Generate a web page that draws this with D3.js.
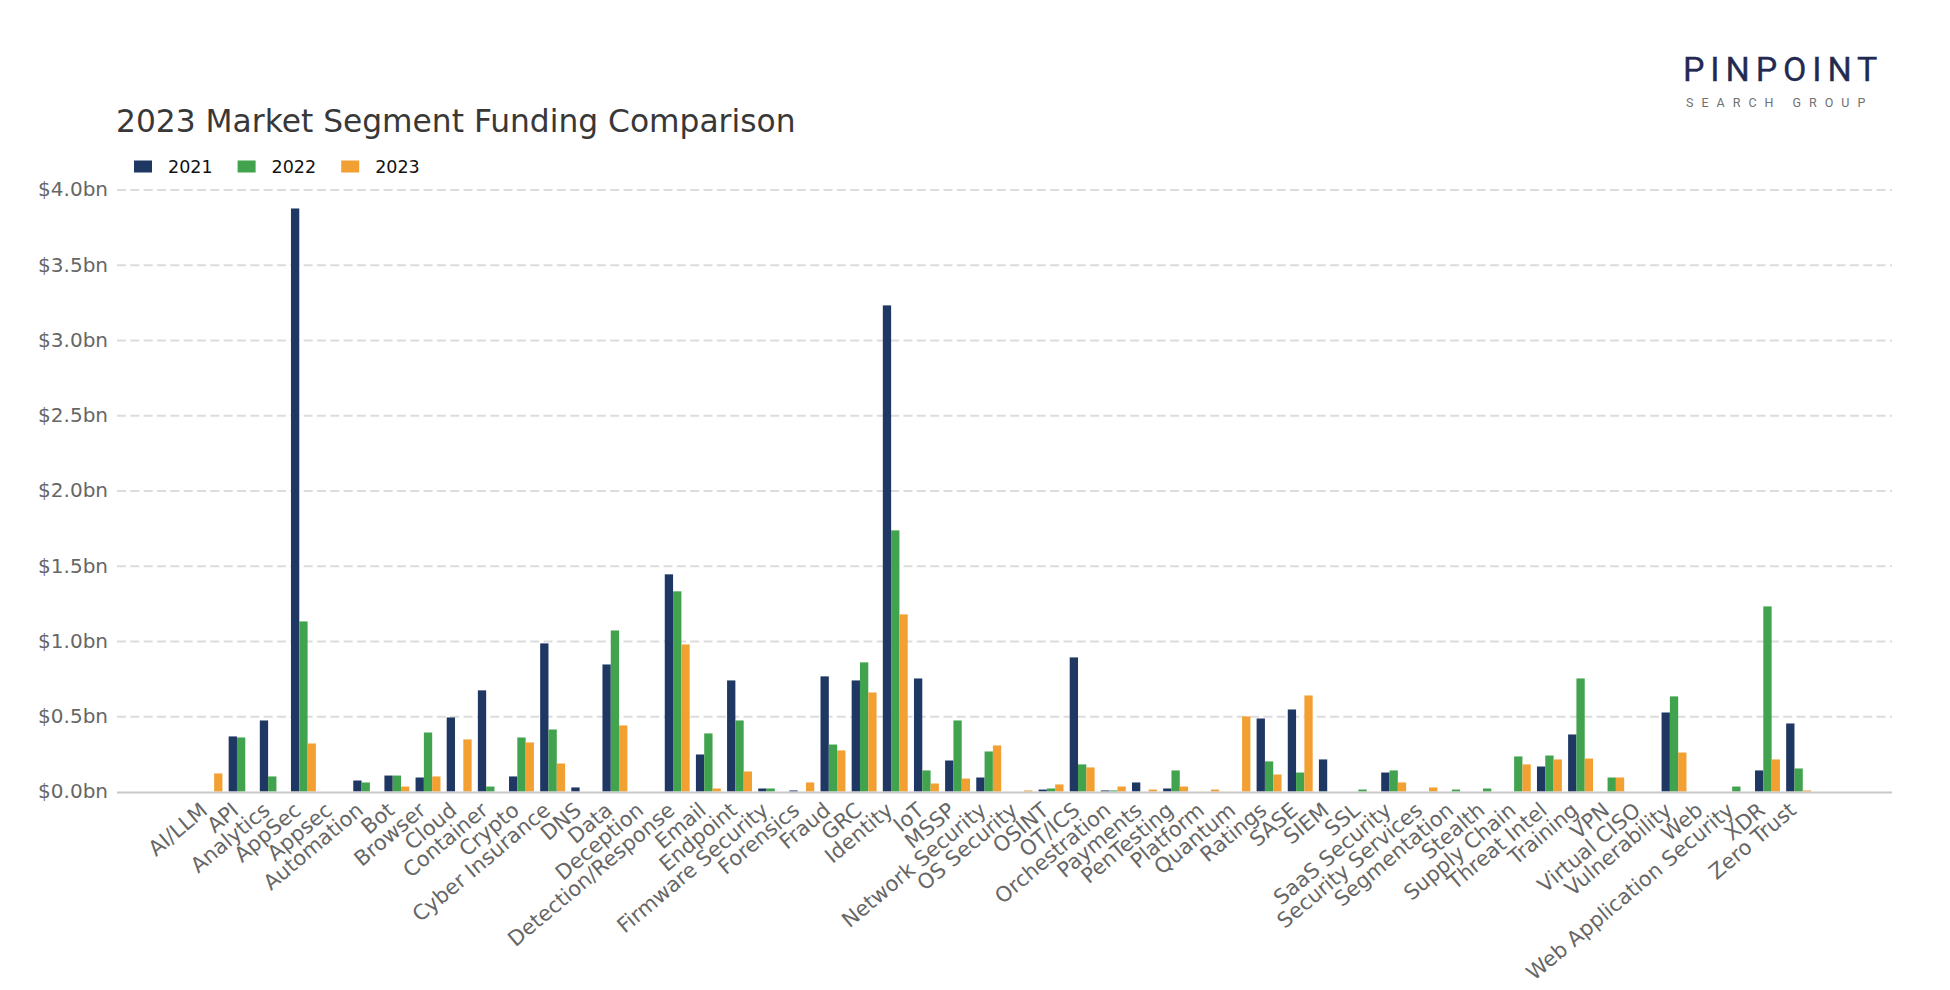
<!DOCTYPE html>
<html>
<head>
<meta charset="utf-8">
<script src="https://cdn.jsdelivr.net/npm/d3@7"></script>
<style>
  html, body { margin: 0; padding: 0; background: #fff; }
  svg { display: block; font-family: "DejaVu Sans", sans-serif; }
</style>
</head>
<body>
<svg id="chart" width="1950" height="990"></svg>
<script>
// market segments, in the order of the x axis
const segments = [
    "AI/LLM", "API", "Analytics", "AppSec", "Appsec", "Automation", "Bot", "Browser",
    "Cloud", "Container", "Crypto", "Cyber Insurance", "DNS", "Data", "Deception",
    "Detection/Response", "Email", "Endpoint", "Firmware Security", "Forensics", "Fraud",
    "GRC", "Identity", "IoT", "MSSP", "Network Security", "OS Security", "OSINT", "OT/ICS",
    "Orchestration", "Payments", "PenTesting", "Platform", "Quantum", "Ratings", "SASE",
    "SIEM", "SSL", "SaaS Security", "Security Services", "Segmentation", "Stealth",
    "Supply Chain", "Threat Intel", "Training", "VPN", "Virtual CISO", "Vulnerability",
    "Web", "Web Application Security", "XDR", "Zero Trust"
];

// funding in $bn
const funding2021 = [
    0, 0.366, 0.472, 3.874, 0, 0.073, 0.106, 0.093,
    0.492, 0.672, 0.10, 0.984, 0.027, 0.844, 0,
    1.443, 0.246, 0.738, 0.02, 0.007, 0.765,
    0.738, 3.23, 0.751, 0.206, 0.093, 0, 0.013, 0.891,
    0.007, 0.06, 0.02, 0, 0, 0.485, 0.545,
    0.213, 0, 0.126, 0, 0, 0,
    0, 0.166, 0.379, 0, 0, 0.525,
    0, 0, 0.14, 0.452
];
const funding2022 = [
    0, 0.359, 0.10, 1.13, 0, 0.06, 0.106, 0.392,
    0, 0.033, 0.359, 0.412, 0, 1.07, 0,
    1.33, 0.386, 0.472, 0.02, 0, 0.312,
    0.858, 1.735, 0.14, 0.472, 0.266, 0, 0.02, 0.18,
    0.007, 0, 0.14, 0, 0, 0.20, 0.126,
    0, 0.013, 0.14, 0, 0.013, 0.02,
    0.233, 0.239, 0.751, 0.093, 0, 0.632,
    0, 0.033, 1.23, 0.153
];
const funding2023 = [
    0.12, 0, 0, 0.319, 0, 0, 0.033, 0.10,
    0.346, 0, 0.326, 0.186, 0, 0.439, 0,
    0.977, 0.02, 0.133, 0, 0.06, 0.273,
    0.658, 1.177, 0.053, 0.086, 0.306, 0.007, 0.047, 0.16,
    0.033, 0.013, 0.033, 0.013, 0.499, 0.113, 0.638,
    0, 0, 0.06, 0.027, 0, 0,
    0.18, 0.213, 0.219, 0.093, 0, 0.259,
    0, 0, 0.213, 0.007
];

const years = ["2021", "2022", "2023"];
const yTicks = [0, 0.5, 1, 1.5, 2, 2.5, 3, 3.5, 4];
const colours = { "2021": "#1f3763", "2022": "#41a34d", "2023": "#f2a032" };

const series = { "2021": funding2021, "2022": funding2022, "2023": funding2023 };
const rows = segments.map((s, i) => ({
    segment: s,
    values: years.map(y => ({ year: y, value: series[y][i] }))
}));

const svg = d3.select("#chart");

const plotLeft = 117,
    plotRight = 1892,
    x = d3.scaleBand()
        .domain(segments)
        .range([194.4, 1814.2])
        .paddingInner(0.2)
        .paddingOuter(0.1),
    xYear = d3.scaleBand()
        .domain(years)
        .range([0, x.bandwidth()]),
    y = d3.scaleLinear()
        .domain([0, 4])
        .range([791.5, 189.5]);

// gridlines + y labels
const yAxis = svg.append("g")
    .attr("class", "axis axis--y")
    .attr("transform", "translate(" + plotLeft + ",0)")
    .call(d3.axisLeft(y)
        .tickValues(yTicks)
        .tickSize(-(plotRight - plotLeft))
        .tickPadding(9)
        .tickFormat(d => "$" + d3.format(".1f")(d) + "bn"));

yAxis.select(".domain").remove();
yAxis.selectAll(".tick line")
    .attr("stroke", "#dcdcdc")
    .attr("stroke-width", 2)
    .attr("stroke-dasharray", "9,4.33")
    .filter(d => d === 0).remove();
yAxis.selectAll(".tick text")
    .attr("fill", "#666")
    .style("font-size", "20px")
    .style("font-family", "DejaVu Sans");

// bars
svg.append("g")
    .attr("class", "bars")
    .selectAll("g")
    .data(rows)
    .enter()
    .append("g")
    .attr("transform", d => "translate(" + x(d.segment) + ",0)")
    .selectAll("rect")
    .data(d => d.values.filter(v => v.value > 0))
    .enter()
    .append("rect")
    .attr("x", d => xYear(d.year))
    .attr("y", d => y(d.value))
    .attr("width", xYear.bandwidth())
    .attr("height", d => y(0) - y(d.value))
    .attr("fill", d => colours[d.year]);

// baseline
svg.append("line")
    .attr("x1", plotLeft)
    .attr("x2", plotRight)
    .attr("y1", y(0) + 1)
    .attr("y2", y(0) + 1)
    .attr("stroke", "#c8c8c8")
    .attr("stroke-width", 2);

// x labels
const xAxis = svg.append("g")
    .attr("class", "axis axis--x")
    .attr("transform", "translate(0," + y(0) + ")")
    .call(d3.axisBottom(x).tickSize(0).tickPadding(0));

xAxis.select(".domain").remove();
xAxis.selectAll(".tick text")
    .attr("fill", "#666")
    .attr("y", 0)
    .attr("dy", 0)
    .attr("text-anchor", "end")
    .attr("transform", "translate(-1,21) rotate(-40)")
    .style("font-size", "21px")
    .style("font-family", "DejaVu Sans");

// title
svg.append("text")
    .attr("x", 116)
    .attr("y", 132)
    .attr("fill", "#383838")
    .style("font-size", "31.3px")
    .text("2023 Market Segment Funding Comparison");

// legend
const legend = svg.append("g")
    .attr("class", "legend")
    .selectAll("g")
    .data(years)
    .enter()
    .append("g")
    .attr("transform", (d, i) => "translate(" + (134 + i * 103.6) + ",160.5)");

legend.append("rect")
    .attr("width", 18)
    .attr("height", 12)
    .attr("fill", d => colours[d]);

legend.append("text")
    .attr("x", 34)
    .attr("y", 12)
    .attr("fill", "#111")
    .style("font-size", "17.5px")
    .text(d => d);

// logo
const logo = svg.append("g").attr("class", "logo");
logo.append("line")
    .attr("x1", 1660).attr("x2", 1905)
    .attr("y1", 80).attr("y2", 80)
    .attr("stroke", "#ececec")
    .attr("stroke-dasharray", "1,6");
logo.append("text")
    .attr("x", 1683)
    .attr("y", 81)
    .attr("fill", "#232a52")
    .attr("stroke", "#232a52")
    .attr("stroke-width", 0.3)
    .style("font-family", "Roboto")
    .style("font-size", "34px")
    .style("letter-spacing", "5.9px")
    .text("PINPOINT");
logo.append("text")
    .attr("x", 1686)
    .attr("y", 107)
    .attr("fill", "#707070")
    .style("font-family", "Roboto")
    .style("font-size", "12.5px")
    .style("letter-spacing", "8px")
    .text("SEARCH GROUP");
</script>
</body>
</html>
